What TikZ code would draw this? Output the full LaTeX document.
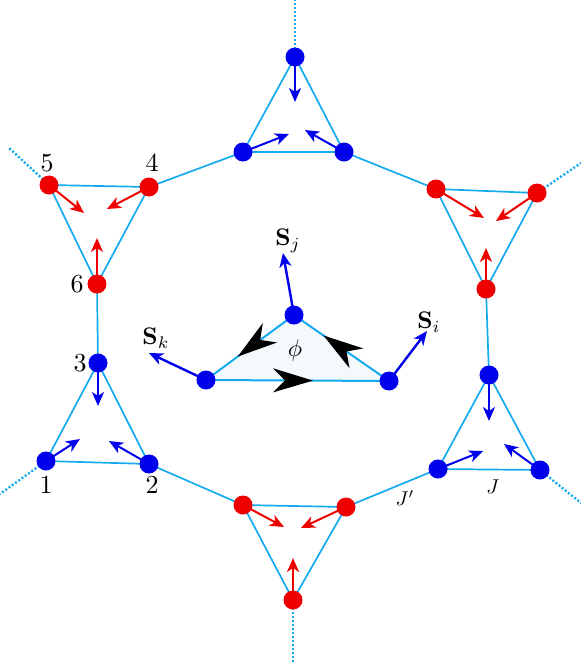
\documentclass[tikz,border=0pt]{standalone}
\usetikzlibrary{arrows.meta,decorations.markings}
\definecolor{bondc}{RGB}{20,170,240}
\definecolor{spinb}{RGB}{0,0,235}
\definecolor{spinr}{RGB}{238,0,0}
\definecolor{trifill}{RGB}{244,249,253}
\pgfdeclarelayer{background}
\pgfsetlayers{background,main}
\begin{document}
\begin{tikzpicture}[x=1pt,y=-1pt,
  bond/.style={bondc,line width=1.7pt},
  dotbond/.style={bondc,line width=2.4pt,dash pattern=on 2pt off 2pt},
  bsite/.style={circle,fill=spinb,inner sep=0pt,minimum size=19pt},
  rsite/.style={circle,fill=spinr,inner sep=0pt,minimum size=19pt},
  bspin/.style={spinb,line width=2pt,-{Stealth[length=14pt,width=12pt,inset=4pt]}},
  rspin/.style={spinr,line width=2pt,-{Stealth[length=14pt,width=12pt,inset=4pt]}},
  cbond/.style={bondc,line width=2pt,postaction={decorate},
    decoration={markings,mark=at position #1 with {\arrow[black]{Stealth[length=40pt,width=24pt,inset=12pt]}}}},
  numlab/.style={inner sep=0pt,scale=2.6},
  lab/.style={inner sep=0pt,scale=2.4},
  slab/.style={inner sep=0pt,scale=2.0}]
\useasboundingbox (0,0) rectangle (581,664);

% top triangle (blue)
\node[bsite] (T1) at (295,57) {};
\node[bsite] (T2) at (243,152) {};
\node[bsite] (T3) at (344,152) {};
% upper-left (red)
\node[rsite] (L5) at (49,185) {};
\node[rsite] (L4) at (149,187) {};
\node[rsite] (L6) at (97,284) {};
% upper-right (red)
\node[rsite] (R1) at (436,189) {};
\node[rsite] (R2) at (537,193) {};
\node[rsite] (R3) at (486,289) {};
% lower-left (blue)
\node[bsite] (B3) at (98,363) {};
\node[bsite] (B1) at (46,461) {};
\node[bsite] (B2) at (149,464) {};
% lower-right (blue)
\node[bsite] (D1) at (489,375) {};
\node[bsite] (D2) at (438,469) {};
\node[bsite] (D3) at (540,470) {};
% bottom (red)
\node[rsite] (M1) at (243,505) {};
\node[rsite] (M2) at (346,507) {};
\node[rsite] (M3) at (293,600) {};
% centre triangle
\node[bsite] (Cj) at (294,315) {};
\node[bsite] (Ck) at (206,380) {};
\node[bsite] (Ci) at (389,381) {};

% free ends of dotted bonds
\coordinate (eT) at (295,0);
\coordinate (eL) at (8,147);
\coordinate (eR) at (581,163);
\coordinate (eB1) at (0,494);
\coordinate (eD3) at (581,503);
\coordinate (eM) at (293,664);

% spin tips
\coordinate (sT1) at (295,102);
\coordinate (sT2) at (289,134);
\coordinate (sT3) at (305,130);
\coordinate (sL5) at (84,213);
\coordinate (sL4) at (107,209);
\coordinate (sL6) at (97,238);
\coordinate (sR1) at (484,218);
\coordinate (sR2) at (496,221);
\coordinate (sR3) at (486,248);
\coordinate (sB3) at (98,406);
\coordinate (sB1) at (80,439);
\coordinate (sB2) at (109,441);
\coordinate (sD1) at (489,421);
\coordinate (sD2) at (483,451);
\coordinate (sD3) at (504,444);
\coordinate (sM1) at (284,527);
\coordinate (sM2) at (301,528);
\coordinate (sM3) at (293,558);
\coordinate (sCj) at (283,253);
\coordinate (sCk) at (149,353);
\coordinate (sCi) at (427,331);

\begin{pgfonlayer}{background}
  % centre triangle fill
  \fill[trifill] (Cj.center) -- (Ck.center) -- (Ci.center) -- cycle;
  % intra-triangle bonds
  \draw[bond] (T1.center) -- (T2.center) -- (T3.center) -- cycle;
  \draw[bond] (L5.center) -- (L4.center) -- (L6.center) -- cycle;
  \draw[bond] (R1.center) -- (R2.center) -- (R3.center) -- cycle;
  \draw[bond] (B3.center) -- (B1.center) -- (B2.center) -- cycle;
  \draw[bond] (D1.center) -- (D2.center) -- (D3.center) -- cycle;
  \draw[bond] (M1.center) -- (M2.center) -- (M3.center) -- cycle;
  % inter-triangle bonds
  \draw[bond] (L4.center) -- (T2.center);
  \draw[bond] (T3.center) -- (R1.center);
  \draw[bond] (L6.center) -- (B3.center);
  \draw[bond] (R3.center) -- (D1.center);
  \draw[bond] (B2.center) -- (M1.center);
  \draw[bond] (M2.center) -- (D2.center);
  % dotted bonds
  \draw[dotbond] (T1.center) -- (eT);
  \draw[dotbond] (L5.center) -- (eL);
  \draw[dotbond] (R2.center) -- (eR);
  \draw[dotbond] (B1.center) -- (eB1);
  \draw[dotbond] (D3.center) -- (eD3);
  \draw[dotbond] (M3.center) -- (eM);
  % spins
  \draw[bspin] (T1.center) -- (sT1);
  \draw[bspin] (T2.center) -- (sT2);
  \draw[bspin] (T3.center) -- (sT3);
  \draw[rspin] (L5.center) -- (sL5);
  \draw[rspin] (L4.center) -- (sL4);
  \draw[rspin] (L6.center) -- (sL6);
  \draw[rspin] (R1.center) -- (sR1);
  \draw[rspin] (R2.center) -- (sR2);
  \draw[rspin] (R3.center) -- (sR3);
  \draw[bspin] (B3.center) -- (sB3);
  \draw[bspin] (B1.center) -- (sB1);
  \draw[bspin] (B2.center) -- (sB2);
  \draw[bspin] (D1.center) -- (sD1);
  \draw[bspin] (D2.center) -- (sD2);
  \draw[bspin] (D3.center) -- (sD3);
  \draw[rspin] (M1.center) -- (sM1);
  \draw[rspin] (M2.center) -- (sM2);
  \draw[rspin] (M3.center) -- (sM3);
  % centre triangle
  \draw[cbond=0.64] (Cj.center) -- (Ck.center);
  \draw[cbond=0.585] (Ck.center) -- (Ci.center);
  \draw[cbond=0.69] (Ci.center) -- (Cj.center);
  \draw[bspin,line width=2.4pt] (Cj.center) -- (sCj);
  \draw[bspin,line width=2.4pt] (Ck.center) -- (sCk);
  \draw[bspin,line width=2.4pt] (Ci.center) -- (sCi);
\end{pgfonlayer}

% labels
\node[numlab] (n5) at (47,163) {5};
\node[numlab] (n4) at (152,163) {4};
\node[numlab] (n6) at (77,284) {6};
\node[numlab] (n3) at (80,363) {3};
\node[numlab] (n1) at (46,485) {1};
\node[numlab] (n2) at (152,485) {2};
\node[lab] (lSj) at (288,241) {$\mathbf{S}_j$};
\node[lab] (lSk) at (156,338) {$\mathbf{S}_k$};
\node[lab] (lSi) at (429,322) {$\mathbf{S}_i$};
\node[lab] (lphi) at (295,350) {$\phi$};
\node[slab] (lJp) at (405,498) {$J'$};
\node[slab] (lJ) at (493,487) {$J$};
\end{tikzpicture}
\end{document}
